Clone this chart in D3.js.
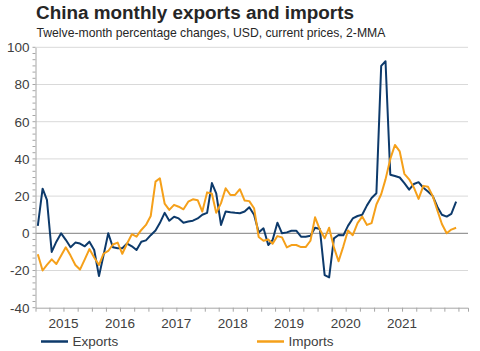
<!DOCTYPE html>
<html lang="en">
<head>
    <meta charset="UTF-8">
    <title>China monthly exports and imports</title>
    <script src="https://d3js.org/d3.v7.min.js"></script>
    <style>
        body { margin: 0; background: #fff; }
        svg { font-family: Arial, "Liberation Sans", sans-serif; }
    </style>
</head>
<body>
    <div class="canvas"></div>
    <script>
      // monthly, Jan 2015 .. Jun 2022 (2-MMA, % y/y)
      const startMonth = new Date(2015, 0, 1);
      const endMonth = new Date(2022, 6, 1);
      const exportsVals = [
        4, 24, 18, -10, -4.5, 0, -3.5, -7.5, -5, -5.5, -7, -4.5,
        -9, -23, -12, 0, -7.5, -8, -8, -5.5, -7, -9, -4.5, -3.8,
        -1, 1.5, 5.5, 11, 6.8, 8.9, 8, 5.7, 6.3, 6.8, 8, 10,
        11, 27, 21.5, 4.5, 11.7, 11.3, 11, 10.8, 11.7, 14, 10, 0.5,
        2.7, -6.3, -3.6, 5.7, 0, 0.5, 1.4, 1.4, -1.8, -1.8, -1.3, 3,
        2.3, -22.5, -23.7, -2.7, -0.9, -1.1, 4, 8, 9.3, 10, 15, 19,
        21.5, 90, 92.5, 31.5, 30.8, 30, 27, 23.5, 26.5, 27.5, 24.5, 22.5,
        20, 14, 10, 9, 10.5, 17
      ];
      const importsVals = [
        -11.3, -20, -17, -14, -16.5, -12, -7.5, -12, -17, -19.5, -14, -8.5,
        -13, -17, -11, -9.5, -6, -5, -11, -5.5, -0.5, -1.8, 1.8, 4.5,
        9.3, 27.8, 29.6, 16, 12.6, 15.3, 14.3, 12.9, 17, 18.3, 17.8, 11.7,
        22, 21.3, 11, 16.2, 24.2, 20.6, 20.6, 23.7, 17.6, 17.3, 13.5, -2,
        -4, -3.3, -5.6, -1.5, -2.2, -7.6, -6.3, -6.3, -7.4, -7.4, -4, 8.6,
        2, -2.7, 3, -7.6, -15, -7, 1.5, -1, 5.5, 9, 4.5, 5.5,
        15.5, 21, 29, 40, 47.5, 44, 32, 29, 24.5, 18.5, 25.5, 25,
        20, 12, 5, 0, 2, 3
      ];
      const yearLabels = ['2015', '2016', '2017', '2018', '2019', '2020', '2021'];
      const yTicks = [-40, -20, 0, 20, 40, 60, 80, 100];
      const seriesNames = ['Exports', 'Imports'];
      const seriesColors = ['#0d3a6b', '#f5a01a'];

      const width = 480;
      const height = 351;
      const [mt, mb, ml, mr] = [47.3, 43.3, 35.5, 12];

      const svg = d3.select('.canvas')
                      .append('svg')
                      .attr('width', width)
                      .attr('height', height);

      svg.append('text')
          .attr('x', 36)
          .attr('y', 19)
          .attr('font-size', 18.9)
          .attr('font-weight', 'bold')
          .attr('fill', '#262626')
          .text('China monthly exports and imports');

      svg.append('text')
          .attr('x', 36.5)
          .attr('y', 37)
          .attr('font-size', 12.2)
          .attr('fill', '#262626')
          .text('Twelve-month percentage changes, USD, current prices, 2-MMA');

      const months = d3.timeMonth.range(startMonth, endMonth);

      const x = d3.scaleTime()
                    .domain([new Date(2015, 0, 1), new Date(2022, 8, 1)])
                    .range([ml, width - mr]);

      const y = d3.scaleLinear()
                    .domain([-40, 100])
                    .range([height - mb, mt]);

      const mid = d => d3.timeDay.offset(d, 15);

      // gridlines
      svg.append('g')
          .selectAll('line')
          .data(yTicks.filter(t => t !== -40 && t !== 0))
          .enter()
          .append('line')
          .attr('x1', ml)
          .attr('x2', width - mr)
          .attr('y1', d => y(d))
          .attr('y2', d => y(d))
          .attr('stroke', '#d9d9d9')
          .attr('stroke-width', 1);

      // zero line
      svg.append('line')
          .attr('x1', ml)
          .attr('x2', width - mr)
          .attr('y1', y(0))
          .attr('y2', y(0))
          .attr('stroke', '#7f7f7f')
          .attr('stroke-width', 1);

      // y axis with minor ticks
      const yAxis = d3.axisLeft(y)
                        .tickValues(yTicks)
                        .tickSize(0)
                        .tickPadding(6)
                        .tickFormat(d => String(d));
      const yAxisG = svg.append('g')
                          .attr('transform', `translate(${ml}, 0)`)
                          .call(yAxis);
      yAxisG.select('.domain').attr('stroke', '#a6a6a6');
      yAxisG.selectAll('text')
          .attr('font-size', 13.5)
          .attr('font-family', 'Arial, "Liberation Sans", sans-serif')
          .attr('fill', '#404040');

      const minor = d3.range(-40, 100.01, 20 / 6);
      yAxisG.selectAll('.minor')
          .data(minor)
          .enter()
          .append('line')
          .attr('class', 'minor')
          .attr('x1', -3)
          .attr('x2', 0)
          .attr('y1', d => y(d))
          .attr('y2', d => y(d))
          .attr('stroke', '#a6a6a6');

      // x axis: quarter ticks, year labels mid-year
      const xAxis = d3.axisBottom(x)
                        .tickValues(d3.timeMonth.range(new Date(2015, 3, 1), new Date(2022, 7, 1), 3))
                        .tickSize(4)
                        .tickFormat('');
      const xAxisG = svg.append('g')
                          .attr('transform', `translate(0, ${height - mb})`)
                          .call(xAxis);
      xAxisG.select('.domain').attr('stroke', '#a6a6a6');
      xAxisG.selectAll('.tick line').attr('stroke', '#a6a6a6');

      svg.append('g')
          .selectAll('text')
          .data(yearLabels)
          .enter()
          .append('text')
          .attr('x', d => x(new Date(+d, 6, 1)))
          .attr('y', height - mb + 20.5)
          .attr('text-anchor', 'middle')
          .attr('font-size', 13.5)
          .attr('fill', '#404040')
          .text(d => d);

      // lines (imports drawn last, on top)
      const line = d3.line()
                      .x((d, i) => x(mid(months[i])))
                      .y(d => y(d));

      [exportsVals, importsVals].forEach((vals, k) => {
        svg.append('path')
            .attr('fill', 'none')
            .attr('stroke', seriesColors[k])
            .attr('stroke-width', 2)
            .attr('stroke-linejoin', 'round')
            .attr('d', line(vals));
      });

      // legend
      const legendX = [41, 257];
      const legend = svg.append('g')
                          .selectAll('g')
                          .data(seriesNames)
                          .enter()
                          .append('g')
                          .attr('transform', (d, i) => `translate(${legendX[i]}, 341.5)`);
      legend.append('line')
          .attr('x1', 0)
          .attr('x2', 27)
          .attr('stroke', (d, i) => seriesColors[i])
          .attr('stroke-width', 2.5);
      legend.append('text')
          .attr('x', 31.5)
          .attr('y', 4.5)
          .attr('font-size', 13.5)
          .attr('fill', '#404040')
          .text(d => d);
    </script>
</body>
</html>
